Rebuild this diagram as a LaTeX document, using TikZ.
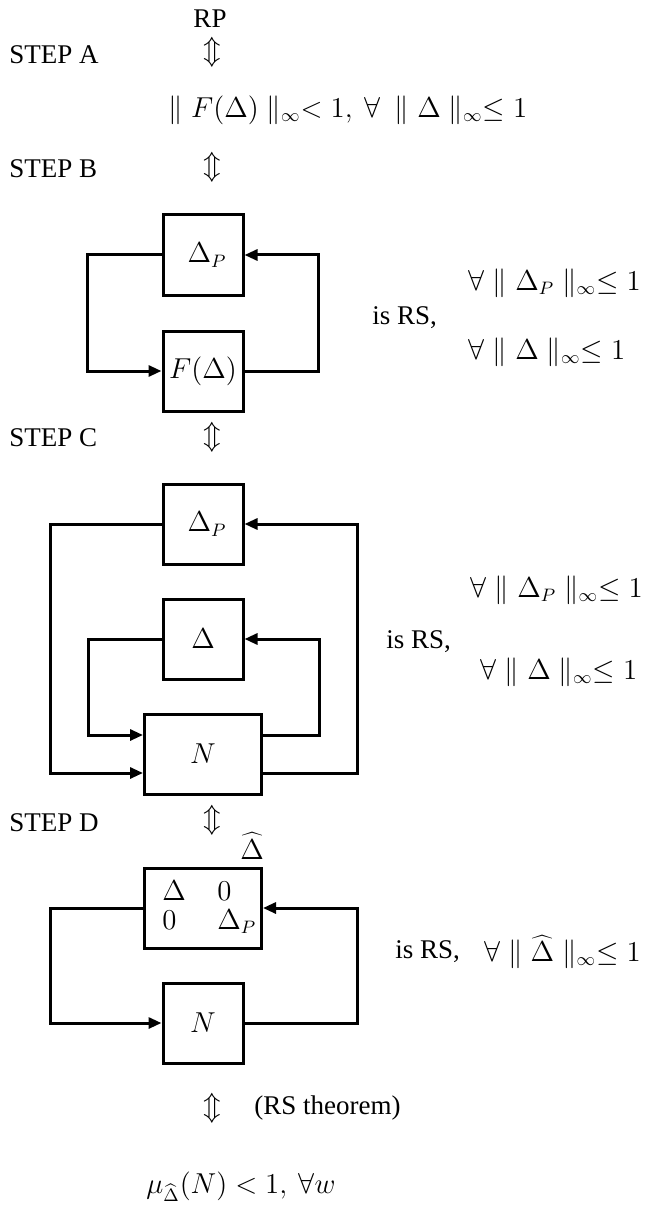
\documentclass[tikz,border=0pt]{standalone}
\usepackage{fontspec}
\setmainfont{Liberation Serif}
\usetikzlibrary{arrows.meta,calc}
\begin{document}
\begin{tikzpicture}[x=0.5pt,y=-0.5pt,
  every node/.style={font=\fontsize{13.5}{16}\selectfont, inner sep=0pt},
  blk/.style={draw, line width=1.5pt, minimum width=40pt, minimum height=40pt, inner sep=0pt},
  wblk/.style={blk, minimum width=58.5pt},
  conn/.style={line width=1.5pt, -{Triangle[length=6.5pt,width=5.5pt]}},
  lbl/.style={anchor=west},
  rlbl/.style={anchor=east},
  ent/.style={anchor=base west}]
\useasboundingbox (0,0) rectangle (646,1209);
% top
\node (rp) at (210,19) {RP};
\node (ia) at (212,52) {$\Updownarrow$};
\node[lbl] (sa) at (9,55) {STEP A};
\node (fa) at (348,110) {$\parallel F(\Delta) \parallel_\infty < 1,\ \forall\ \parallel \Delta \parallel_\infty \leq 1$};
\node[lbl] (sb) at (9,169) {STEP B};
\node (ib) at (212,167) {$\Updownarrow$};
% step B
\node[blk] (dpB) at (203,255) {\hspace*{4pt}$\Delta_P$};
\node[blk] (fB) at (203,371) {$F(\Delta)$};
\coordinate (bl) at (87,0);
\coordinate (br) at (318,0);
\draw[conn] (dpB.west) -| (bl |- fB.west) -- (fB.west);
\draw[conn] (fB.east) -| (br |- dpB.east) -- (dpB.east);
\node[lbl] (rsB) at (372,318) {is RS,};
\node[rlbl] (qB1) at (641,283) {$\forall \parallel \Delta_P \parallel_\infty \leq 1$};
\node[lbl] (qB2) at (qB1.west |- 0,352) {$\forall \parallel \Delta \parallel_\infty \leq 1$};
\node[lbl] (sc) at (9,438) {STEP C};
\node (ic) at (212,437) {$\Updownarrow$};
% step C
\node[blk] (dpC) at (203,524) {\hspace*{4pt}$\Delta_P$};
\node[blk] (dC) at (203,639) {$\Delta$};
\node[wblk] (NC) at (203,754) {$N$};
\coordinate (NCwu) at ($(NC.west)+(0,-19)$);
\coordinate (NCwl) at ($(NC.west)+(0,19)$);
\coordinate (NCeu) at ($(NC.east)+(0,-19)$);
\coordinate (NCel) at ($(NC.east)+(0,19)$);
\coordinate (col) at (50,0);
\coordinate (cor) at (357,0);
\coordinate (cil) at (88,0);
\coordinate (cir) at (319,0);
\draw[conn] (dpC.west) -| (col |- NCwl) -- (NCwl);
\draw[conn] (NCel) -| (cor |- dpC.east) -- (dpC.east);
\draw[conn] (dC.west) -| (cil |- NCwu) -- (NCwu);
\draw[conn] (NCeu) -| (cir |- dC.east) -- (dC.east);
\node[lbl] (rsC) at (386,642) {is RS,};
\node[rlbl] (qC1) at (643,590) {$\forall \parallel \Delta_P \parallel_\infty \leq 1$};
\node[lbl] (qC2) at ($(qC1.west |- 0,672)+(10,0)$) {$\forall \parallel \Delta \parallel_\infty \leq 1$};
\node[lbl] (sd) at (9,823) {STEP D};
\node (id) at (212,820) {$\Updownarrow$};
% step D
\node[wblk] (mD) at (203,908) {};
\node (hat) at (252,846) {$\widehat{\Delta}$};
\node[ent] (m11) at (162,900) {$\Delta$};
\node[ent] (m12) at (217,900) {$0$};
\node[ent] (m21) at (162,929) {$0$};
\node[ent] (m22) at (217,929) {$\Delta_P$};
\node[blk] (ND) at (203,1023) {$N$};
\coordinate (dl) at (50,0);
\coordinate (dr) at (357,0);
\draw[conn] (mD.west) -| (dl |- ND.west) -- (ND.west);
\draw[conn] (ND.east) -| (dr |- mD.east) -- (mD.east);
\node[rlbl] (qD) at (641,952) {$\forall \parallel \widehat{\Delta} \parallel_\infty \leq 1$};
\node[lbl] (rsD) at (395,952) {is RS,};
% bottom
\node (ie) at (212,1108) {$\Updownarrow$};
\node[lbl] (thm) at (254,1108) {(RS theorem)};
\node (mu) at (241,1187) {$\mu_{\widehat{\Delta}}(N) < 1,\ \forall w$};
\end{tikzpicture}
\end{document}
